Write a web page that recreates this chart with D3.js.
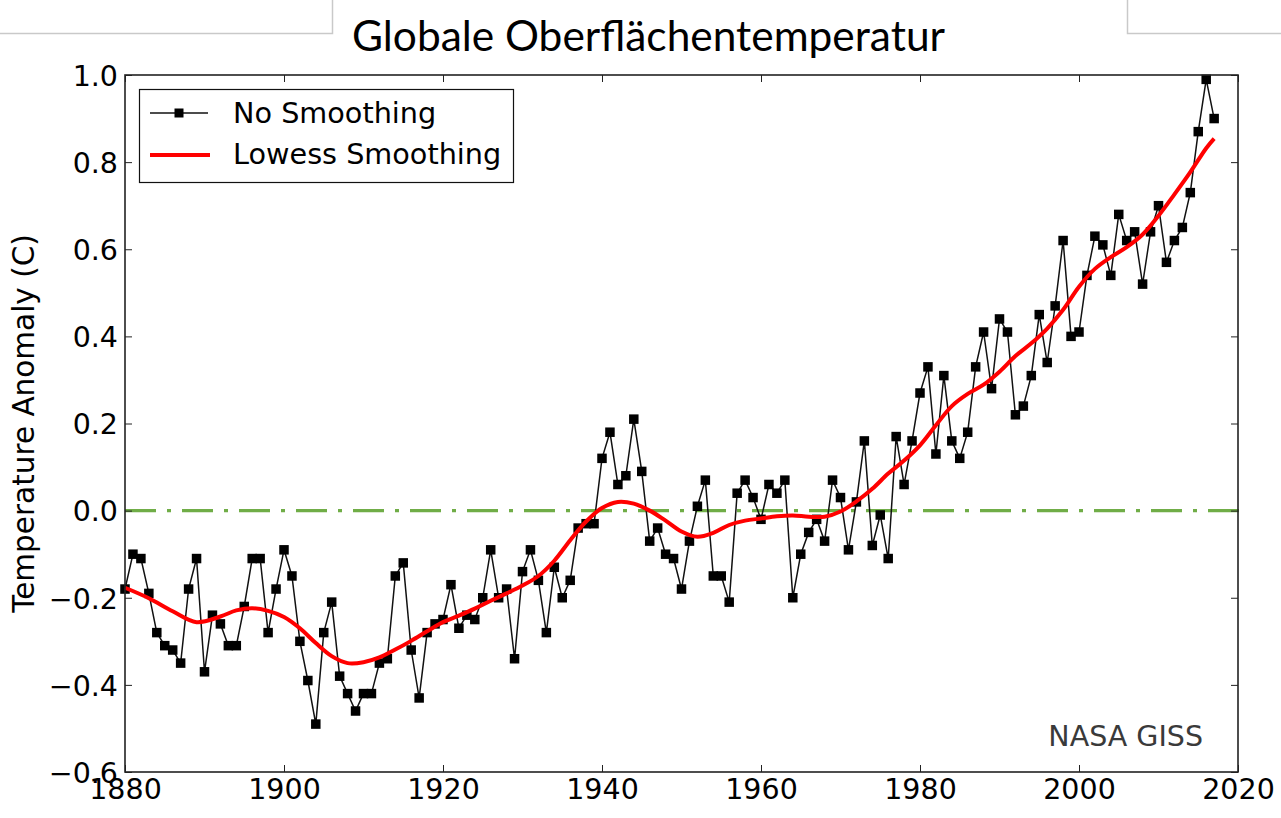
<!DOCTYPE html>
<html>
<head>
<meta charset="utf-8">
<script src="https://cdn.jsdelivr.net/npm/d3@7"></script>
<style>
  html, body { margin: 0; padding: 0; background: #fff; }
  svg { display: block; }
</style>
</head>
<body>
<svg id="chart" width="1281" height="818"></svg>
<script>
// GISTEMP annual global land-ocean temperature anomalies (°C)
const years = d3.range(1880, 2018);
const anomaly = [
  -0.18, -0.10, -0.11, -0.19, -0.28, -0.31, -0.32, -0.35, -0.18, -0.11,   // 1880s
  -0.37, -0.24, -0.26, -0.31, -0.31, -0.22, -0.11, -0.11, -0.28, -0.18,   // 1890s
  -0.09, -0.15, -0.30, -0.39, -0.49, -0.28, -0.21, -0.38, -0.42, -0.46,   // 1900s
  -0.42, -0.42, -0.35, -0.34, -0.15, -0.12, -0.32, -0.43, -0.28, -0.26,   // 1910s
  -0.25, -0.17, -0.27, -0.24, -0.25, -0.20, -0.09, -0.20, -0.18, -0.34,   // 1920s
  -0.14, -0.09, -0.16, -0.28, -0.13, -0.20, -0.16, -0.04, -0.03, -0.03,   // 1930s
   0.12,  0.18,  0.06,  0.08,  0.21,  0.09, -0.07, -0.04, -0.10, -0.11,   // 1940s
  -0.18, -0.07,  0.01,  0.07, -0.15, -0.15, -0.21,  0.04,  0.07,  0.03,   // 1950s
  -0.02,  0.06,  0.04,  0.07, -0.20, -0.10, -0.05, -0.02, -0.07,  0.07,   // 1960s
   0.03, -0.09,  0.02,  0.16, -0.08, -0.01, -0.11,  0.17,  0.06,  0.16,   // 1970s
   0.27,  0.33,  0.13,  0.31,  0.16,  0.12,  0.18,  0.33,  0.41,  0.28,   // 1980s
   0.44,  0.41,  0.22,  0.24,  0.31,  0.45,  0.34,  0.47,  0.62,  0.40,   // 1990s
   0.41,  0.54,  0.63,  0.61,  0.54,  0.68,  0.62,  0.64,  0.52,  0.64,   // 2000s
   0.70,  0.57,  0.62,  0.65,  0.73,  0.87,  0.99,  0.90                  // 2010s
];

// Lowess-smoothed trend
const lowessYears = [
  1880, 1883, 1886, 1889, 1892, 1894, 1896, 1898, 1900, 1902, 1904, 1906, 1908,
  1910, 1912, 1914, 1916, 1918, 1920, 1922, 1924, 1926, 1928, 1930, 1932, 1934,
  1936, 1938, 1940, 1942, 1944, 1946, 1948, 1950, 1952, 1954, 1956, 1958, 1960,
  1962, 1964, 1966, 1968, 1970, 1972, 1974, 1976, 1978, 1980, 1982, 1984, 1986,
  1988, 1990, 1992, 1994, 1996, 1998, 2000, 2002, 2004, 2006, 2008, 2010, 2012,
  2014, 2016, 2017
];
const lowessValues = [
  -0.177, -0.201, -0.231, -0.256, -0.243, -0.229, -0.224, -0.230, -0.244, -0.270, -0.304, -0.334, -0.350,
  -0.348, -0.337, -0.319, -0.299, -0.277, -0.256, -0.241, -0.225, -0.207, -0.190, -0.172, -0.150, -0.115,
  -0.068, -0.025,  0.006,  0.020,  0.016,  0.000, -0.023, -0.048, -0.060, -0.051, -0.033, -0.023, -0.018,
  -0.013, -0.011, -0.014, -0.014, -0.002,  0.021,  0.050,  0.085,  0.115,  0.150,  0.196,  0.240,  0.268,
   0.289,  0.319,  0.355,  0.384,  0.418,  0.461,  0.514,  0.555,  0.582,  0.605,  0.634,  0.677,  0.726,
   0.777,  0.832,  0.854
];

const xTicks = [1880, 1900, 1920, 1940, 1960, 1980, 2000, 2020];
const yTicks = [-0.6, -0.4, -0.2, 0.0, 0.2, 0.4, 0.6, 0.8, 1.0];

const titleText = "Globale Oberflächentemperatur";
const yLabel = "Temperature Anomaly (C)";
const legendLabels = ["No Smoothing", "Lowess Smoothing"];
const sourceText = "NASA GISS";

const svg = d3.select("#chart");
const plot = { left: 125, right: 1238, top: 75, bottom: 772 };

const x = d3.scaleLinear().domain([1880, 2020]).range([plot.left, plot.right]);
const y = d3.scaleLinear().domain([-0.6, 1.0]).range([plot.bottom, plot.top]);

const tickFont = "'DejaVu Sans', sans-serif";

// slide frame corners
svg.append("path")
  .attr("d", "M0,33.5H332.5V0 M1281,33.5H1127.5V0")
  .attr("fill", "none").attr("stroke", "#c9c9c9").attr("stroke-width", 1.5);

// title
svg.append("text")
  .attr("x", 352).attr("y", 51)
  .attr("textLength", 593).attr("lengthAdjust", "spacingAndGlyphs")
  .style("font-family", "Lato, 'Open Sans', sans-serif")
  .style("font-size", "43px")
  .attr("fill", "#000")
  .text(titleText);

// zero reference line
svg.append("line")
  .attr("x1", x(1880)).attr("x2", 1250)
  .attr("y1", y(0)).attr("y2", y(0))
  .attr("stroke", "#70ad47").attr("stroke-width", 3.2)
  .attr("stroke-dasharray", "31,11,4,11");

// raw annual series
const series = years.map((yr, i) => ({ year: yr, value: anomaly[i] }));
svg.append("path")
  .datum(series)
  .attr("fill", "none")
  .attr("stroke", "#111").attr("stroke-width", 1.5)
  .attr("d", d3.line().x(d => x(d.year)).y(d => y(d.value)));

const ms = 9.5;
svg.append("g").selectAll("rect")
  .data(series).join("rect")
  .attr("x", d => x(d.year) - ms / 2)
  .attr("y", d => y(d.value) - ms / 2)
  .attr("width", ms).attr("height", ms)
  .attr("fill", "#000");

// smoothed trend
const trend = lowessYears.map((yr, i) => ({ year: yr, value: lowessValues[i] }));
svg.append("path")
  .datum(trend)
  .attr("fill", "none")
  .attr("stroke", "#ff0000").attr("stroke-width", 4)
  .attr("stroke-linejoin", "round")
  .attr("d", d3.line().curve(d3.curveCatmullRom.alpha(0.5)).x(d => x(d.year)).y(d => y(d.value)));

// axes with inward ticks on all four sides
const tickLen = 7;
const gx = svg.append("g").attr("transform", `translate(0,${plot.bottom})`)
  .call(d3.axisBottom(x).tickValues(xTicks).tickFormat(d3.format("d")).tickSize(-tickLen).tickPadding(6));
const gxTop = svg.append("g").attr("transform", `translate(0,${plot.top})`)
  .call(d3.axisTop(x).tickValues(xTicks).tickFormat("").tickSize(-tickLen));
const gy = svg.append("g").attr("transform", `translate(${plot.left},0)`)
  .call(d3.axisLeft(y).tickValues(yTicks).tickFormat(d3.format(".1f")).tickSize(-tickLen).tickPadding(7));
const gyRight = svg.append("g").attr("transform", `translate(${plot.right},0)`)
  .call(d3.axisRight(y).tickValues(yTicks).tickFormat("").tickSize(-tickLen));

[gx, gxTop, gy, gyRight].forEach(g => {
  g.select(".domain").remove();
  g.selectAll(".tick line").attr("stroke", "#222").attr("stroke-width", 1);
  g.selectAll("text")
    .style("font-family", tickFont).style("font-size", "28.5px").attr("fill", "#000");
});
gx.selectAll("text").attr("dy", "0.74em");
gy.selectAll("text").attr("dy", "0.36em");

// plot frame
svg.append("rect")
  .attr("x", plot.left).attr("y", plot.top)
  .attr("width", plot.right - plot.left).attr("height", plot.bottom - plot.top)
  .attr("fill", "none").attr("stroke", "#222").attr("stroke-width", 1.6);

// y axis label
svg.append("text")
  .attr("transform", `translate(34,${(plot.top + plot.bottom) / 2}) rotate(-90)`)
  .attr("text-anchor", "middle")
  .style("font-family", tickFont).style("font-size", "29.5px")
  .attr("fill", "#000")
  .text(yLabel);

// source note
svg.append("text")
  .attr("x", 1203).attr("y", 746)
  .attr("text-anchor", "end")
  .style("font-family", tickFont).style("font-size", "28.5px")
  .attr("fill", "#3a3a3a")
  .text(sourceText);

// legend
const lg = svg.append("g");
lg.append("rect")
  .attr("x", 139.5).attr("y", 89.5).attr("width", 374).attr("height", 93)
  .attr("fill", "#fff").attr("stroke", "#111").attr("stroke-width", 1.2);
lg.append("line")
  .attr("x1", 150).attr("x2", 208).attr("y1", 113).attr("y2", 113)
  .attr("stroke", "#111").attr("stroke-width", 1.3);
lg.append("rect")
  .attr("x", 179 - 4.5).attr("y", 113 - 4.5).attr("width", 9).attr("height", 9)
  .attr("fill", "#000");
lg.append("line")
  .attr("x1", 150).attr("x2", 210).attr("y1", 155).attr("y2", 155)
  .attr("stroke", "#ff0000").attr("stroke-width", 4);
lg.selectAll("text.lbl")
  .data(legendLabels).join("text")
  .attr("class", "lbl")
  .attr("x", 233).attr("y", (d, i) => 123 + i * 41)
  .style("font-family", tickFont).style("font-size", "28.7px")
  .attr("fill", "#000")
  .text(d => d);
</script>
</body>
</html>
